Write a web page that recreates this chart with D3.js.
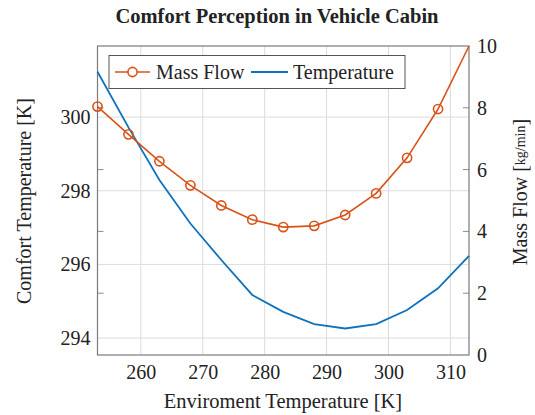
<!doctype HTML>
<html>
<head>
    <script src="https://d3js.org/d3.v7.min.js"></script>
    <style>
        body { margin: 0; background: #fff; }
        text { font-family: "Liberation Serif", "DejaVu Serif", serif; fill: #222; }
    </style>
</head>
<body>
<script>

    // data
    var envTemp = [253, 258, 263, 268, 273, 278, 283, 288, 293, 298, 303, 308, 313];
    var massFlow = [8.04, 7.14, 6.27, 5.49, 4.84, 4.38, 4.14, 4.18, 4.53, 5.23, 6.38, 7.96, 10.0];
    var comfortTemp = [301.23, 299.72, 298.29, 297.11, 296.12, 295.17, 294.71, 294.38, 294.26, 294.38, 294.76, 295.35, 296.23];
    var xTicks = [260, 270, 280, 290, 300, 310];
    var leftTicks = [294, 296, 298, 300];
    var rightTicks = [0, 2, 4, 6, 8, 10];

    var orange = "#d95319", blue = "#0f72bd";

    // plot box
    var margin = {top: 46, right: 66, bottom: 60, left: 97.5},
        width = 535 - margin.left - margin.right,
        height = 415 - margin.top - margin.bottom;

    var root = d3.select("body")
        .append("svg")
        .attr("width", 535)
        .attr("height", 415);

    var svg = root.append("g")
        .attr("transform", "translate(" + margin.left + "," + margin.top + ")");

    var x = d3.scaleLinear().domain([253, 313]).range([0, width]);
    var yL = d3.scaleLinear().domain([293.54, 301.93]).range([height, 0]);
    var yR = d3.scaleLinear().domain([0, 10]).range([height, 0]);

    // grid
    svg.append("g")
        .selectAll("line.vgrid")
        .data(xTicks)
        .enter()
        .append("line")
        .attr("x1", d => x(d)).attr("x2", d => x(d))
        .attr("y1", 0).attr("y2", height)
        .attr("stroke", "#dcdcdc").attr("stroke-width", 1);

    svg.append("g")
        .selectAll("line.hgrid")
        .data(leftTicks)
        .enter()
        .append("line")
        .attr("x1", 0).attr("x2", width)
        .attr("y1", d => yL(d)).attr("y2", d => yL(d))
        .attr("stroke", "#dcdcdc").attr("stroke-width", 1);

    // inner ticks of the right axis, mirrored on both sides
    var inner = rightTicks.slice(1, -1);
    svg.append("g")
        .selectAll("line")
        .data(inner)
        .enter()
        .append("line")
        .attr("x1", 0).attr("x2", 6)
        .attr("y1", d => yR(d)).attr("y2", d => yR(d))
        .attr("stroke", "#8a8a8a");
    svg.append("g")
        .selectAll("line")
        .data(inner)
        .enter()
        .append("line")
        .attr("x1", width - 6).attr("x2", width)
        .attr("y1", d => yR(d)).attr("y2", d => yR(d))
        .attr("stroke", "#8a8a8a");

    // axes (labels only, frame drawn below)
    var xAxis = svg.append("g")
        .attr("transform", "translate(0," + height + ")")
        .call(d3.axisBottom(x).tickValues(xTicks).tickSize(0).tickPadding(10));
    var lAxis = svg.append("g")
        .call(d3.axisLeft(yL).tickValues(leftTicks).tickSize(0).tickPadding(7));
    var rAxis = svg.append("g")
        .attr("transform", "translate(" + width + ",0)")
        .call(d3.axisRight(yR).tickValues(rightTicks).tickSize(0).tickPadding(8));
    [xAxis, lAxis, rAxis].forEach(function (a) {
        a.select(".domain").remove();
        a.selectAll("text")
            .attr("font-size", "20px")
            .attr("font-family", "Liberation Serif")
            .attr("fill", "#222");
    });

    // frame
    svg.append("rect")
        .attr("x", 0).attr("y", 0)
        .attr("width", width).attr("height", height)
        .attr("fill", "none")
        .attr("stroke", "#7a7a7a")
        .attr("stroke-width", 1.2);

    // lines
    var pts = envTemp.map(function (t, i) { return {t: t, m: massFlow[i], c: comfortTemp[i]}; });

    svg.append("path")
        .datum(pts)
        .attr("fill", "none")
        .attr("stroke", blue)
        .attr("stroke-width", 1.8)
        .attr("d", d3.line().x(d => x(d.t)).y(d => yL(d.c)));

    svg.append("path")
        .datum(pts)
        .attr("fill", "none")
        .attr("stroke", orange)
        .attr("stroke-width", 1.6)
        .attr("d", d3.line().x(d => x(d.t)).y(d => yR(d.m)));

    svg.append("g")
        .selectAll("circle")
        .data(pts.slice(0, -1))
        .enter()
        .append("circle")
        .attr("cx", d => x(d.t))
        .attr("cy", d => yR(d.m))
        .attr("r", 4.6)
        .attr("fill", "none")
        .attr("stroke", orange)
        .attr("stroke-width", 1.6);

    // legend
    var lg = root.append("g");
    lg.append("rect")
        .attr("x", 109).attr("y", 55.5)
        .attr("width", 296).attr("height", 33)
        .attr("fill", "#fff")
        .attr("stroke", "#555")
        .attr("stroke-width", 1);
    lg.append("line")
        .attr("x1", 115).attr("x2", 150).attr("y1", 72).attr("y2", 72)
        .attr("stroke", orange).attr("stroke-width", 1.6);
    lg.append("circle")
        .attr("cx", 132.5).attr("cy", 72).attr("r", 4.6)
        .attr("fill", "#fff").attr("stroke", orange).attr("stroke-width", 1.6);
    lg.append("text")
        .attr("x", 156).attr("y", 78.5)
        .attr("font-size", "20px")
        .text("Mass Flow");
    lg.append("line")
        .attr("x1", 251).attr("x2", 288).attr("y1", 72).attr("y2", 72)
        .attr("stroke", blue).attr("stroke-width", 1.8);
    lg.append("text")
        .attr("x", 293).attr("y", 78.5)
        .attr("font-size", "20px")
        .text("Temperature");

    // title and axis labels
    root.append("text")
        .attr("x", 277).attr("y", 23)
        .attr("text-anchor", "middle")
        .attr("font-size", "20.5px")
        .attr("font-weight", "bold")
        .text("Comfort Perception in Vehicle Cabin");

    root.append("text")
        .attr("x", 283).attr("y", 408)
        .attr("text-anchor", "middle")
        .attr("font-size", "20.5px")
        .text("Enviroment Temperature [K]");

    root.append("text")
        .attr("transform", "translate(31,201) rotate(-90)")
        .attr("text-anchor", "middle")
        .attr("font-size", "20px")
        .text("Comfort Temperature [K]");

    var rl = root.append("text")
        .attr("transform", "translate(527,192) rotate(-90)")
        .attr("text-anchor", "middle")
        .attr("font-size", "20px");
    rl.append("tspan").text("Mass Flow [");
    rl.append("tspan").attr("font-size", "14px").attr("dy", -2).text("kg/min");
    rl.append("tspan").attr("dy", 2).text("]");

</script>
</body>
</html>
